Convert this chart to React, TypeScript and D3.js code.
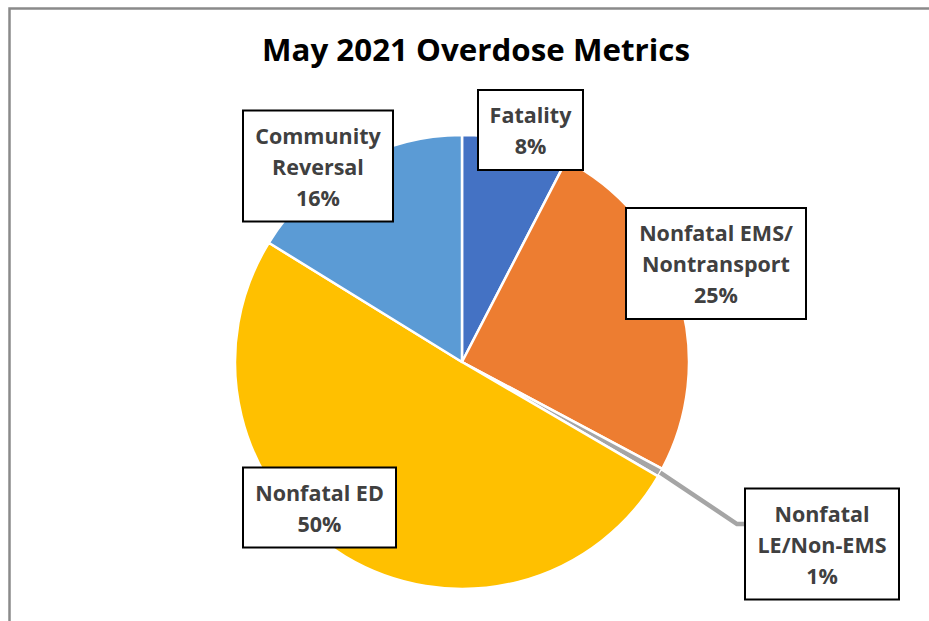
import React from "react";
import * as d3 from "d3";

const categories = ["Fatality", "Nonfatal EMS/Nontransport", "Nonfatal LE/Non-EMS", "Nonfatal ED", "Community Reversal"];
const values = [7.6, 25.2, 0.6, 50.4, 16.2];
const percentLabels = ["8%", "25%", "1%", "50%", "16%"];
const labelLines = [["Fatality"], ["Nonfatal EMS/", "Nontransport"], ["Nonfatal", "LE/Non-EMS"], ["Nonfatal ED"], ["Community", "Reversal"]];
const colors = ["#4472C4", "#ED7D31", "#A5A5A5", "#FFC000", "#5B9BD5"];

// layout of label boxes (center x, center y, width)
const boxLayout = [
  { cx: 530.5, cy: 130, w: 105 },
  { cx: 716, cy: 263.5, w: 180 },
  { cx: 822, cy: 544, w: 154 },
  { cx: 319.5, cy: 507.5, w: 153 },
  { cx: 318, cy: 166, w: 150 },
];

const W = 929;
const H = 621;
const CX = 462;
const CY = 362;
const R = 227;
const LINE_H = 31;

export default function App() {
  const pie = d3.pie<number>().sort(null).value((d) => d)(values);
  const arc = d3.arc<d3.PieArcDatum<number>>().innerRadius(0).outerRadius(R);

  return (
    <svg
      width={W}
      height={H}
      style={{ position: "absolute", left: 0, top: 0, background: "#fff" }}
      fontFamily="'Open Sans', sans-serif"
    >
      <rect x={9.5} y={8.5} width={W + 20} height={H + 20} fill="#fff" stroke="#8a8a8a" strokeWidth={2.5} />
      <text x={476} y={49} textAnchor="middle" dominantBaseline="central" fontSize={31} fontWeight={700} fill="#000" textLength={428} lengthAdjust="spacingAndGlyphs">
        May 2021 Overdose Metrics
      </text>
      <g transform={`translate(${CX},${CY})`}>
        {pie.map((p, i) => (
          <path key={i} d={arc(p) || ""} fill={colors[i]} stroke="#fff" strokeWidth={2.5} strokeLinejoin="round" />
        ))}
      </g>
      {pie.map((p, i) => {
        const lines = [...labelLines[i], percentLabels[i]];
        const b = boxLayout[i];
        const h = lines.length * LINE_H + 18;
        const x0 = b.cx - b.w / 2;
        const y0 = b.cy - h / 2;
        const mid = (p.startAngle + p.endAngle) / 2;
        const edgeX = CX + R * Math.sin(mid);
        const edgeY = CY - R * Math.cos(mid);
        const showLeader = i === 2;
        return (
          <g key={i}>
            {showLeader && (
              <polyline
                points={`${edgeX},${edgeY} ${x0 - 8},${b.cy - 20} ${x0},${b.cy - 20}`}
                fill="none"
                stroke="#A5A5A5"
                strokeWidth={4.5}
              />
            )}
            <rect x={x0} y={y0} width={b.w} height={h} fill="#fff" stroke="#000" strokeWidth={2} />
            {lines.map((t, j) => (
              <text
                key={j}
                x={b.cx}
                y={b.cy + (j - (lines.length - 1) / 2) * LINE_H}
                textAnchor="middle"
                dominantBaseline="central"
                fontSize={21.5}
                fontWeight={700}
                fill="#404040"
              >
                {t}
              </text>
            ))}
          </g>
        );
      })}
    </svg>
  );
}
